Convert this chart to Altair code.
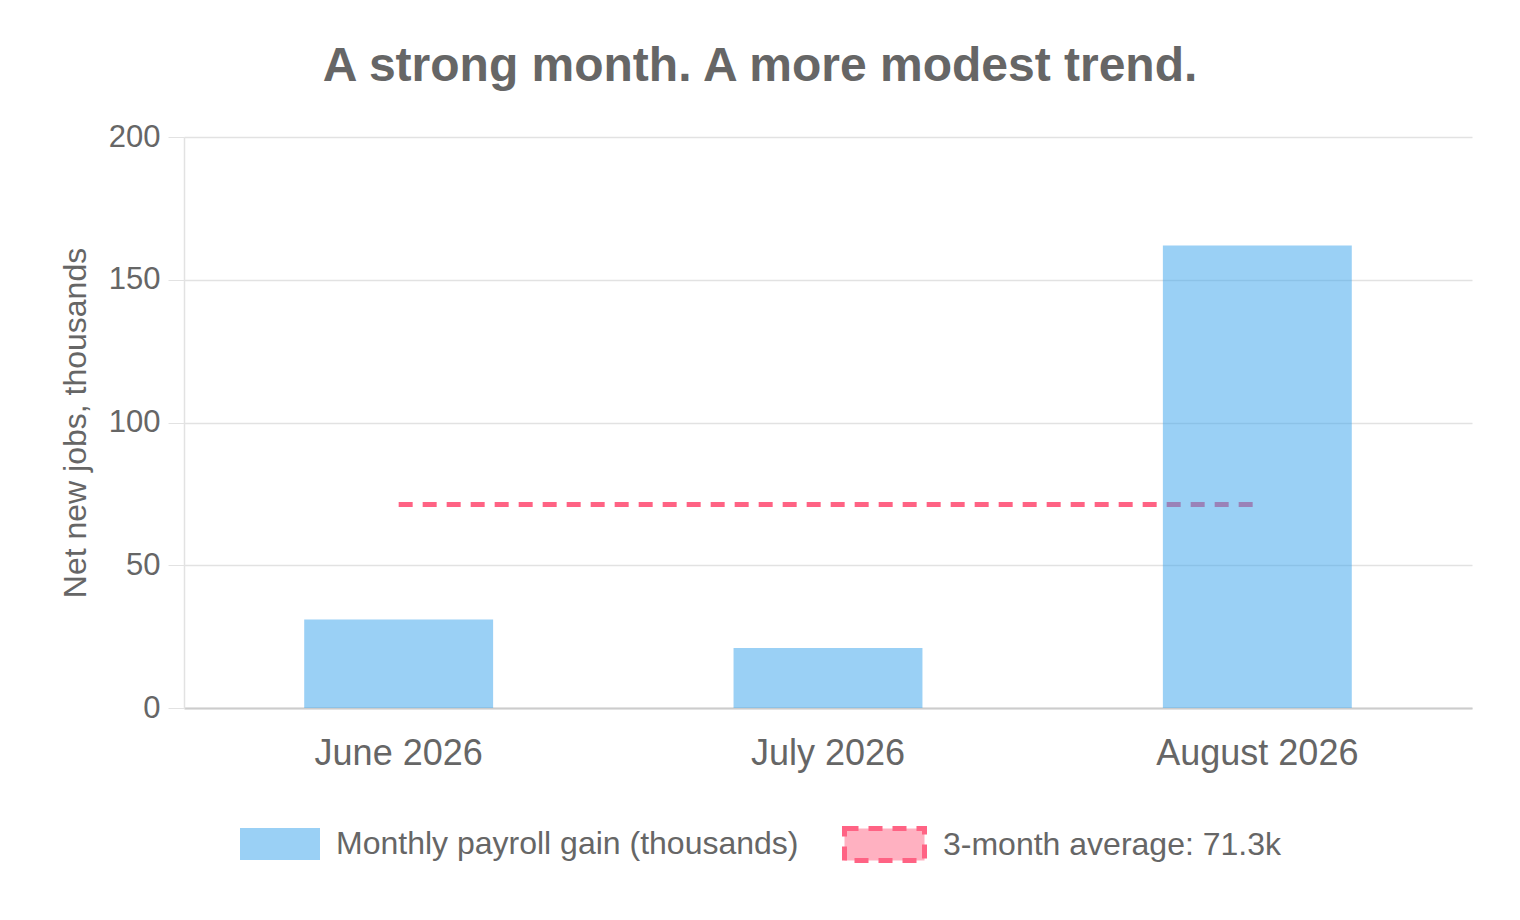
import altair as alt
import pandas as pd

months = ["June 2026", "July 2026", "August 2026"]
payroll_gain = [31, 21, 162]
avg_value = round(sum(payroll_gain) / len(payroll_gain), 1)

bar_label = "Monthly payroll gain (thousands)"
avg_label = "3-month average: " + str(avg_value) + "k"

df_bars = pd.DataFrame({"month": months, "jobs": payroll_gain, "series": bar_label})
df_avg = pd.DataFrame({"month": months, "jobs": [avg_value] * 3, "series": avg_label})

FONT = "Liberation Sans"
TEXT = "#666666"
BOX = "M-1.25,-0.5H1.25V0.5H-1.25Z"

x_enc = alt.X(
    "month:N",
    sort=months,
    scale=alt.Scale(paddingInner=0.56, paddingOuter=0.28),
    axis=alt.Axis(
        title=None,
        labelAngle=0,
        labelFontSize=36,
        labelColor=TEXT,
        labelFont=FONT,
        labelPadding=28,
        labelLimit=500,
        ticks=False,
        grid=False,
        domainColor="#cccccc",
        domainWidth=2,
    ),
)

y_enc = alt.Y(
    "jobs:Q",
    scale=alt.Scale(domain=[0, 200]),
    axis=alt.Axis(
        title="Net new jobs, thousands",
        titleFontSize=32,
        titleFontWeight="normal",
        titleColor=TEXT,
        titleFont=FONT,
        titlePadding=16,
        values=[0, 50, 100, 150, 200],
        labelFontSize=31,
        labelColor=TEXT,
        labelFont=FONT,
        labelPadding=8,
        tickSize=16,
        tickColor="#e2e2e2",
        gridColor="#e2e2e2",
        gridWidth=1.5,
        domainColor="#e2e2e2",
        domainWidth=1.5,
    ),
)

legend_common = dict(
    title=None,
    orient="none",
    padding=0,
    symbolType=BOX,
    symbolSize=4096,
    labelFontSize=32,
    labelColor=TEXT,
    labelFont=FONT,
    labelOffset=24,
    labelLimit=800,
)

bar_fill = alt.Fill(
    "series:N",
    scale=alt.Scale(domain=[bar_label], range=["#36A2EB"]),
    legend=alt.Legend(
        legendX=64,
        legendY=675,
        symbolOpacity=0.5,
        symbolStrokeWidth=0,
        **legend_common,
    ),
)

line_stroke = alt.Stroke(
    "series:N",
    scale=alt.Scale(domain=[avg_label], range=["#FF6384"]),
    legend=alt.Legend(
        legendX=666,
        legendY=673,
        symbolFillColor="rgba(255,99,132,0.5)",
        symbolStrokeColor="#FF6384",
        symbolStrokeWidth=5,
        symbolDash=[14, 10],
        **legend_common,
    ),
)

avg_line = alt.Chart(df_avg).mark_line(strokeWidth=5, strokeDash=[14, 10], strokeCap="butt").encode(
    x=x_enc,
    y=y_enc,
    stroke=line_stroke,
)

bars = alt.Chart(df_bars).mark_bar(opacity=0.5).encode(
    x=x_enc,
    y=y_enc,
    fill=bar_fill,
)

chart = alt.layer(avg_line, bars).properties(
    width=1288,
    height=571,
    autosize=alt.AutoSizeParams(type="none"),
    padding={"left": 176, "top": 129, "right": 40, "bottom": 204},
    title=alt.Title(
        "A strong month. A more modest trend.",
        fontSize=48,
        fontWeight="bold",
        color=TEXT,
        font=FONT,
        anchor="middle",
        dx=-68,
        offset=30,
    ),
).resolve_scale(
    fill="independent", stroke="independent"
).configure(background="white").configure_view(stroke=None)

chart.save("out.html", embed_options={"renderer": "svg", "actions": False})
